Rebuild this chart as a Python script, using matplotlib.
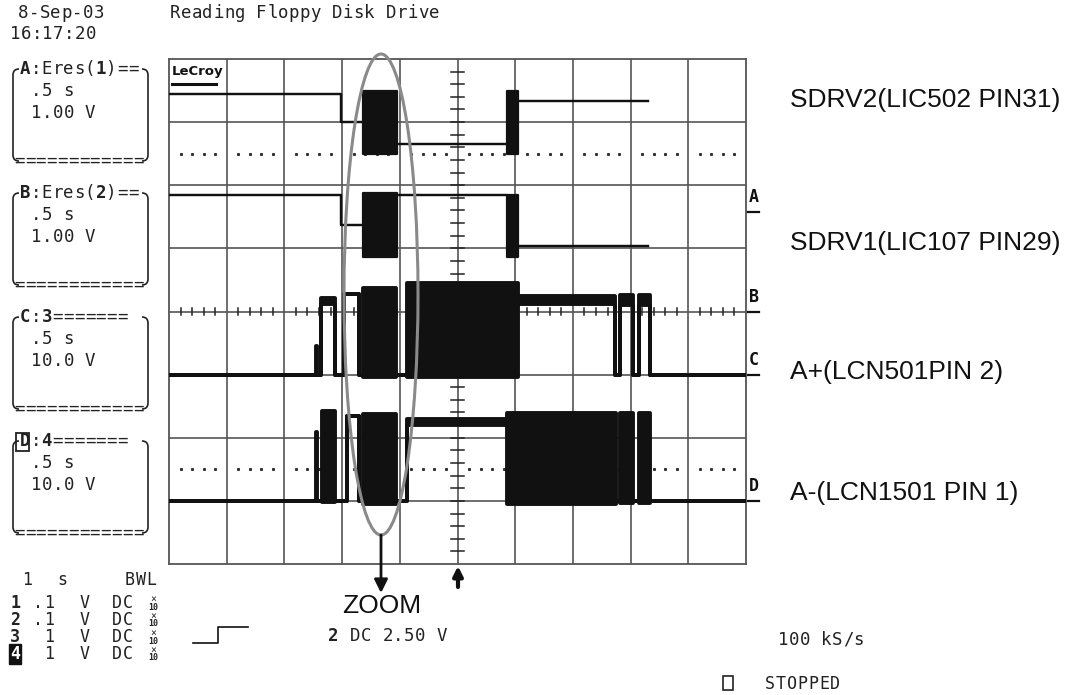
import matplotlib
matplotlib.use("Agg")
import matplotlib.pyplot as plt
from matplotlib.patches import Ellipse, Rectangle
from matplotlib.path import Path
from matplotlib.patches import PathPatch
import numpy as np

# ---- trace data (x in divisions 0..10, y in divisions -4..4) ----
# each trace: segment edges, lower and upper level per segment
# (lower == upper -> plain level, otherwise a dense burst)
A_EDGES = [0, 2.98, 3.37, 3.95, 5.86, 6.05, 8.31]
A_LO = [3.45, 3.00, 2.49, 2.65, 2.49, 3.33]
A_HI = [3.45, 3.00, 3.49, 2.65, 3.49, 3.33]

B_EDGES = [0, 2.98, 3.37, 3.95, 5.86, 6.05, 8.31]
B_LO = [1.84, 1.37, 0.87, 1.85, 0.87, 1.03]
B_HI = [1.84, 1.37, 1.87, 1.85, 1.85, 1.03]

C_EDGES = [0, 2.54, 2.56, 2.64, 2.87, 3.04, 3.30, 3.36, 3.93, 4.13, 6.05,
           7.73, 7.81, 8.04, 8.14, 8.34, 10]
C_LO = [-1, -1, -1, 0.12, -1, 0.28, -1, -1.03, -1, -1.03, 0.12, -1, 0.10,
        -1, 0.10, -1]
C_HI = [-1, -0.55, -1, 0.22, -1, 0.28, -1, 0.37, -1, 0.45, 0.24, -1, 0.26,
        -1, 0.26, -1]

D_EDGES = [0, 2.54, 2.56, 2.65, 2.87, 3.09, 3.30, 3.36, 3.93, 4.13, 5.86,
           7.75, 7.81, 8.04, 8.14, 8.34, 10]
D_LO = [-3, -3, -3, -3.02, -3, -1.66, -3, -3.05, -3, -1.80, -3.05, -3,
        -3.03, -3, -3.03, -3]
D_HI = [-3, -1.91, -3, -1.58, -3, -1.66, -3, -1.62, -3, -1.70, -1.60, -3,
        -1.60, -3, -1.60, -3]

TRACE_NAMES = ["SDRV2(LIC502 PIN31)", "SDRV1(LIC107 PIN29)",
               "A+(LCN501PIN 2)", "A-(LCN1501 PIN 1)"]
MARKERS = ["A", "B", "C", "D"]
MARKER_LEVELS = [1.58, 0.0, -1.0, -3.0]

BOX_LETTER = ["A", "B", "C", "D"]
BOX_TITLE = [":Eres(1)==", ":Eres(2)==", ":3=======", ":4======="]
BOX_TIME = [".5 s", ".5 s", ".5 s", ".5 s"]
BOX_VOLT = ["1.00 V", "1.00 V", "10.0 V", "10.0 V"]

CH_NUM = ["1", "2", "3", "4"]
CH_VDIV = [".1", ".1", " 1", " 1"]

W, H = 1076, 695
MONO = "DejaVu Sans Mono"
PITCH = 10.8
GRID_C = "#555555"

fig = plt.figure(figsize=(W / 100, H / 100), dpi=100)

# scope screen
ax = fig.add_axes([169 / W, 1 - 564 / H, 577 / W, 505 / H])
ax.set_xlim(0, 10)
ax.set_ylim(-4, 4)
ax.set_xticks([])
ax.set_yticks([])
for s in ax.spines.values():
    s.set_color(GRID_C)
    s.set_linewidth(1.3)
for i in range(1, 10):
    ax.axvline(i, color=GRID_C, lw=1.2, zorder=1)
for j in range(-3, 4):
    ax.axhline(j, color=GRID_C, lw=1.2, zorder=1)

minor = [v for v in np.arange(0.2, 10, 0.2) if abs(v - round(v)) > 0.05]
ax.plot(minor, [2.5] * len(minor), ls="none", marker="s", ms=1.2, color="#333", zorder=1)
ax.plot(minor, [-2.5] * len(minor), ls="none", marker="s", ms=1.2, color="#333", zorder=1)
for v in minor:
    ax.plot([v, v], [-0.06, 0.06], color="#222", lw=1.1, zorder=1)
for v in np.arange(-3.8, 4, 0.2):
    ax.plot([4.895, 5.105], [v, v], color="#222", lw=1.1, zorder=1)


def draw_trace(edges, lo, hi, lw):
    lo2 = lo + [lo[-1]]
    hi2 = hi + [hi[-1]]
    ax.fill_between(edges, lo2, hi2, step="post", color="#111", lw=0, zorder=3)
    ax.step(edges, lo2, where="post", color="#111", lw=lw, zorder=3)
    ax.step(edges, hi2, where="post", color="#111", lw=lw, zorder=3)


draw_trace(A_EDGES, A_LO, A_HI, 1.6)
draw_trace(B_EDGES, B_LO, B_HI, 1.6)
draw_trace(C_EDGES, C_LO, C_HI, 2.8)
draw_trace(D_EDGES, D_LO, D_HI, 2.8)

# overlay in pixel coordinates for all the screen annotations
ov = fig.add_axes([0, 0, 1, 1])
ov.set_xlim(0, W)
ov.set_ylim(H, 0)
ov.axis("off")


def mono(x, y, s, bold=(), size=12.5, color="#222", **kw):
    for i, ch in enumerate(s):
        if ch == " ":
            continue
        ov.text(x + i * PITCH, y, ch, family=MONO, fontsize=size,
                fontweight="bold" if i in bold else "normal",
                color=color, ha="left", va="center", **kw)


def side(x, y0, y1, r, sign):
    verts = [(x + sign * r, y0), (x, y0), (x, y0 + r), (x, y1 - r),
             (x, y1), (x + sign * r, y1)]
    codes = [Path.MOVETO, Path.CURVE3, Path.CURVE3, Path.LINETO,
             Path.CURVE3, Path.CURVE3]
    ov.add_patch(PathPatch(Path(verts, codes), fill=False, ec="#222", lw=1.2))


mono(18, 13, "8-Sep-03")
mono(10, 34, "16:17:20")
mono(170, 13, "Reading Floppy Disk Drive")

for k in range(4):
    yt = 69 + 124 * k
    mono(20, yt, BOX_LETTER[k] + BOX_TITLE[k], bold=(0, 7) if k < 2 else (0, 2))
    mono(31, yt + 22, BOX_TIME[k])
    mono(31, yt + 44, BOX_VOLT[k])
    mono(14, yt + 92, "============")
    side(13, yt, yt + 92, 6, 1)
    side(148, yt, yt + 92, 6, -1)
ov.add_patch(Rectangle((16, 433), 13, 18, fill=False, ec="#222", lw=1.3))

# LeCroy logo
ov.text(172, 72, "LeCroy", family="DejaVu Sans", fontweight="bold",
        fontsize=9.5, va="center", ha="left", color="#111")
ov.plot([172, 216], [84, 84], color="#111", lw=2.2)

# channel markers at the right edge of the screen
for m, lvl in zip(MARKERS, MARKER_LEVELS):
    yp = 311.5 - 63.1 * lvl
    ov.text(749, yp - 15, m, family=MONO, fontweight="bold", fontsize=12,
            ha="left", va="center", color="#111")
    ov.plot([748, 759], [yp, yp], color="#111", lw=1.6)

# trace names
for name, yp in zip(TRACE_NAMES, [100, 243, 372, 493]):
    ov.text(790, yp, name, family="Liberation Sans", fontsize=19,
            ha="left", va="center", color="#111")

# zoom ellipse and arrows
ov.add_patch(Ellipse((381, 294.5), 74, 481, fill=False, ec="#8a8a8a", lw=2.2))
ov.annotate("", xy=(381, 593), xytext=(381, 535),
            arrowprops=dict(arrowstyle="-|>", lw=2, color="#111",
                            mutation_scale=20, shrinkA=0, shrinkB=0))
ov.text(382, 606, "ZOOM", family="Liberation Sans", fontsize=19,
        ha="center", va="center", color="#111")
ov.annotate("", xy=(458, 566), xytext=(458, 587),
            arrowprops=dict(arrowstyle="-|>", lw=3, color="#111",
                            mutation_scale=14, shrinkA=0, shrinkB=0))

# bottom status lines
mono(22, 580, "1", size=12)
mono(57, 580, "s", size=12)
mono(125, 580, "BWL", size=12)
for k in range(4):
    yp = 603 + 17 * k
    if k == 3:
        ov.text(10, yp, CH_NUM[k], family=MONO, fontweight="bold", fontsize=12,
                color="white", ha="left", va="center",
                bbox=dict(boxstyle="square,pad=0.05", fc="#111", ec="#111"))
    else:
        mono(10, yp, CH_NUM[k], bold=(0,), size=12)
    mono(33, yp, CH_VDIV[k], size=12)
    mono(80, yp, "V", size=12)
    mono(112, yp, "DC", size=12)
    ov.text(150, yp - 4, "\u00d7", family=MONO, fontsize=7, ha="left", va="center", color="#222")
    ov.text(148, yp + 4, "10", family=MONO, fontsize=6, fontweight="bold",
            ha="left", va="center", color="#222")

ov.plot([193, 218, 218, 248], [643, 643, 627, 627], color="#111", lw=1.2)
mono(328, 636, "2", bold=(0,))
mono(350, 636, "DC 2.50 V")
mono(778, 640, "100 kS/s")
ov.add_patch(Rectangle((723, 676), 10, 14, fill=False, ec="#222", lw=1.2))
mono(765, 684, "STOPPED", size=12)

fig.savefig("out.png", dpi=100)
